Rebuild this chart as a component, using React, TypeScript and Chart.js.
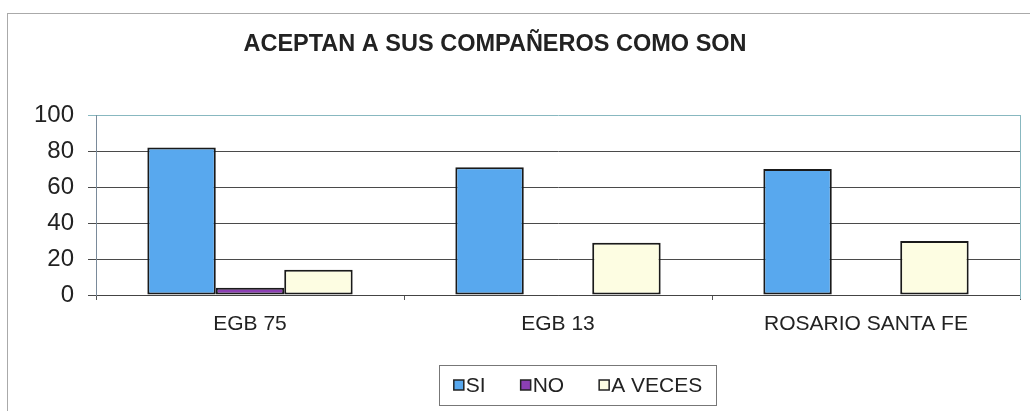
import React, { useEffect, useRef } from "react";
import { Chart, registerables } from "chart.js";

Chart.register(...registerables);

const TITLE = "ACEPTAN A SUS COMPAÑEROS COMO SON";
const categories = ["EGB 75", "EGB 13", "ROSARIO SANTA FE"];
const siValues = [82, 71, 70];
const noValues = [4, 0, 0];
const aVecesValues = [14, 29, 30];
const seriesLabels = ["SI", "NO", "A VECES"];
const seriesColors = ["#58a8ee", "#8c3fb3", "#fdfde2"];

const FONT = "'Liberation Sans', Arial, sans-serif";

const customTitle = {
  id: "customTitle",
  afterDraw(chart: any) {
    const ctx = chart.ctx as CanvasRenderingContext2D;
    ctx.save();
    ctx.font = `bold 23.5px ${FONT}`;
    ctx.fillStyle = "#222";
    ctx.textAlign = "center";
    ctx.textBaseline = "middle";
    ctx.fillText(chart.options.plugins.customTitle.text, 495, 45);
    ctx.restore();
  },
};

const customLegend = {
  id: "customLegend",
  afterDraw(chart: any) {
    const ctx = chart.ctx as CanvasRenderingContext2D;
    const ds = chart.data.datasets;
    ctx.save();
    ctx.font = `21px ${FONT}`;
    const box = 10;
    const gap = 2;
    const spacing = 35;
    const widths = ds.map((d: any) => ctx.measureText(d.label).width);
    const total =
      widths.reduce((a: number, w: number) => a + box + gap + w, 0) +
      spacing * (ds.length - 1);
    const cx = 578;
    const cy = 385;
    let x = cx - total / 2;
    ctx.strokeStyle = "#777";
    ctx.lineWidth = 1;
    ctx.strokeRect(Math.round(x - 15) + 0.5, 365.5, Math.round(total + 29), 40);
    ds.forEach((d: any, i: number) => {
      ctx.fillStyle = d.backgroundColor;
      ctx.fillRect(x, cy - box / 2, box, box);
      ctx.strokeStyle = "#222";
      ctx.lineWidth = 1.5;
      ctx.strokeRect(x, cy - box / 2, box, box);
      ctx.fillStyle = "#222";
      ctx.textBaseline = "middle";
      ctx.textAlign = "left";
      ctx.fillText(d.label, x + box + gap, cy + 1);
      x += box + gap + widths[i] + spacing;
    });
    ctx.restore();
  },
};

const plotFrame = {
  id: "plotFrame",
  afterDraw(chart: any) {
    const ctx = chart.ctx as CanvasRenderingContext2D;
    const a = chart.chartArea;
    ctx.save();
    ctx.strokeStyle = "#88b8c0";
    ctx.lineWidth = 1;
    ctx.beginPath();
    ctx.moveTo(Math.round(a.right) + 0.5, a.top);
    ctx.lineTo(Math.round(a.right) + 0.5, a.bottom + 4);
    ctx.stroke();
    ctx.restore();
  },
};

export default function App() {
  const ref = useRef<HTMLCanvasElement>(null);
  useEffect(() => {
    if (!ref.current) return;
    const chart = new Chart(ref.current, {
      type: "bar",
      data: {
        labels: categories,
        datasets: [
          { label: seriesLabels[0], data: siValues, backgroundColor: seriesColors[0] },
          { label: seriesLabels[1], data: noValues, backgroundColor: seriesColors[1] },
          { label: seriesLabels[2], data: aVecesValues, backgroundColor: seriesColors[2] },
        ].map((d) => ({
          ...d,
          borderColor: "#1a1a1a",
          borderWidth: 2,
          borderSkipped: false,
          categoryPercentage: 3 / 4.5,
          barPercentage: 1,
        })),
      },
      options: {
        responsive: false,
        animation: false,
        layout: { padding: { left: 0, right: 10, top: 115, bottom: 56 } },
        plugins: {
          legend: { display: false },
          tooltip: { enabled: false },
          title: { display: false },
          customTitle: { text: TITLE },
        } as any,
        scales: {
          x: {
            grid: {
              drawOnChartArea: false,
              offset: true,
              tickLength: 5,
              color: "#555",
            },
            border: { color: "#444", width: 1 },
            ticks: {
              color: "#222",
              font: { family: FONT, size: 21 },
              padding: 12,
            },
            afterFit(scale: any) {
              scale.height = 60;
            },
          },
          y: {
            min: 0,
            max: 100,
            grid: {
              color: (c: any) => (c.tick && c.tick.value === 100 ? "#88b8c0" : "#4a4a4a"),
              tickLength: 8,
            },
            border: { color: "#7a8a9a", width: 1 },
            ticks: {
              stepSize: 20,
              color: "#222",
              font: { family: FONT, size: 24 },
              padding: 14,
            },
            afterFit(scale: any) {
              scale.width = 96;
            },
          },
        },
      },
      plugins: [customTitle, customLegend, plotFrame],
    });
    return () => chart.destroy();
  }, []);

  return (
    <div style={{ position: "absolute", left: 0, top: 0, width: 1030, height: 411, overflow: "hidden", background: "#fff" }}>
      <div
        style={{
          position: "absolute",
          left: 7,
          top: 13,
          width: 1040,
          height: 420,
          border: "1px solid #aaa",
          boxSizing: "border-box",
        }}
      />
      <canvas ref={ref} width={1030} height={411} style={{ position: "absolute", left: 0, top: 0 }} />
    </div>
  );
}
